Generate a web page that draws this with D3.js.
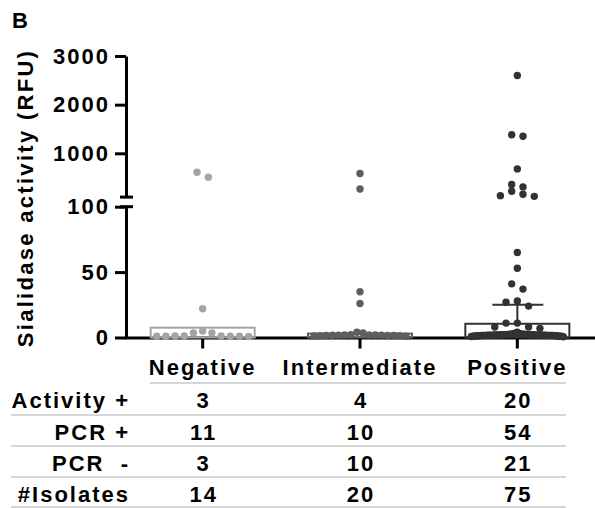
<!DOCTYPE html>
<html>
<head>
<meta charset="utf-8">
<script src="https://cdn.jsdelivr.net/npm/d3@7"></script>
<style>
  body { margin: 0; background: #fff; }
  svg { display: block; }
</style>
</head>
<body>
<div id="chart"></div>
<script>
// groups on the x axis
const categories = ["Negative", "Intermediate", "Positive"];

// sialidase activity (RFU) per isolate
const negativeValues = [612, 510, 22, 5, 3.4, 3.4, 1.2, 1.1, 1.1, 1, 1, 1, 0.9, 0.8];
const intermediateValues = [585, 265, 35, 26, 4, 3.5,
  2.2, 2, 2, 1.9, 1.8, 1.8, 1.7, 1.6, 1.5, 1.5, 1.4, 1.3, 1.2, 1];
const positiveValues = [2600, 1380, 1350, 680, 360, 310, 220, 160, 130, 115,
  65, 53, 41, 37, 28, 27, 24, 11, 11, 8, 8, 7,
  4, 3.5, 3, 3, 2.8, 2.7, 2.6, 2.5, 2.5, 2.4,
  2.4, 2.3, 2.3, 2.2, 2.2, 2.2, 2.1, 2.1, 2.1, 2,
  2, 2, 2, 2, 1.9, 1.9, 1.9, 1.8, 1.8, 1.8,
  1.8, 1.7, 1.7, 1.7, 1.6, 1.6, 1.6, 1.5, 1.5, 1.5,
  1.5, 1.4, 1.4, 1.3, 1.3, 1.2, 1.2, 1.1, 1, 1,
  0.9, 0.8, 0.6];

// bar height and upper error bar per group
const barValues = [7.5, 3, 10.5];
const errorUpper = [7.5, 3, 25];

// broken y axis
const lowTicks = [0, 50, 100];
const highTicks = [1000, 2000, 3000];

const dotColors = ["#a4a4a4", "#5e5e5e", "#323232"];

// table under the chart
const rowLabels = ["Activity +", "PCR +", "PCR  -", "#Isolates"];
const activityPlus = [3, 4, 20];
const pcrPlus = [11, 10, 54];
const pcrMinus = [3, 10, 21];
const isolates = [14, 20, 75];

const width = 595, height = 508;
const font = "'Liberation Sans', Arial, Helvetica, sans-serif";

const svg = d3.select("#chart")
  .append("svg")
  .attr("width", width)
  .attr("height", height)
  .style("font-family", font)
  .style("font-weight", "bold");

const x = d3.scaleBand()
  .domain(categories)
  .range([124, 596]);

const yLow = d3.scaleLinear().domain([0, 100]).range([337.5, 206.7]);
const yHigh = d3.scaleLinear().domain([100, 3000]).range([197.1, 56]);
const y = v => v <= 100 ? yLow(v) : yHigh(v);

const axisX = 126;

function styleAxis(g) {
  g.selectAll("path, line").attr("stroke", "#000").attr("stroke-width", 3);
  g.selectAll("text")
    .attr("fill", "#000")
    .style("font-family", font)
    .style("font-weight", "bold")
    .style("font-size", "22px")
    .style("letter-spacing", "2px");
}

// y axis, lower and upper segments
svg.append("g")
  .attr("transform", `translate(${axisX},0)`)
  .call(d3.axisLeft(yLow).tickValues(lowTicks).tickFormat(d3.format("d"))
    .tickSize(11).tickSizeOuter(0).tickPadding(5))
  .call(styleAxis);

svg.append("g")
  .attr("transform", `translate(${axisX},0)`)
  .call(d3.axisLeft(yHigh).tickValues(highTicks).tickFormat(d3.format("d"))
    .tickSize(11).tickSizeOuter(0).tickPadding(5))
  .call(styleAxis);

// break marks
[yLow(100), yHigh(100)].forEach(yy => {
  svg.append("line")
    .attr("x1", axisX - 6).attr("x2", axisX + 7)
    .attr("y1", yy).attr("y2", yy)
    .attr("stroke", "#000").attr("stroke-width", 3);
});

// x axis with group labels
svg.append("g")
  .attr("transform", `translate(0,${yLow(0)})`)
  .call(d3.axisBottom(x).tickSize(11).tickSizeOuter(0).tickPadding(11))
  .call(styleAxis);

// bars (outline only)
const barWidth = 104;
svg.selectAll("rect.bar")
  .data(categories)
  .enter()
  .append("rect")
  .attr("class", "bar")
  .attr("x", d => x(d) + x.bandwidth() / 2 - barWidth / 2)
  .attr("y", (d, i) => yLow(barValues[i]))
  .attr("width", barWidth)
  .attr("height", (d, i) => yLow(0) - yLow(barValues[i]))
  .attr("fill", "none")
  .attr("stroke", (d, i) => dotColors[i])
  .attr("stroke-width", 2);

// scatter: points with close y are laid out side by side in a row
const r = 3.7;
const laneStep = 11.3;
const maxSpread = 92;

function layout(values, cx) {
  const pts = values.map(v => ({ v, py: y(v) })).sort((a, b) => b.py - a.py);
  const rows = [];
  pts.forEach(p => {
    const row = rows[rows.length - 1];
    if (row && row.start - p.py < 7.5) row.items.push(p);
    else rows.push({ start: p.py, items: [p] });
  });
  const out = [];
  rows.forEach(row => {
    const n = row.items.length;
    const step = n > 1 ? Math.min(laneStep, maxSpread / (n - 1)) : 0;
    const slots = d3.range(n).map(i => (i - (n - 1) / 2) * step)
      .sort((a, b) => Math.abs(a) - Math.abs(b) || a - b);
    row.items.slice().sort((a, b) => b.v - a.v).forEach((p, i) => {
      out.push({ v: p.v, cx: cx + slots[i], cy: p.py });
    });
  });
  return out;
}

const groups = [negativeValues, intermediateValues, positiveValues];
groups.forEach((vals, i) => {
  const cx = x(categories[i]) + x.bandwidth() / 2;
  svg.append("g")
    .selectAll("circle")
    .data(layout(vals, cx))
    .enter()
    .append("circle")
    .attr("cx", d => d.cx)
    .attr("cy", d => d.cy)
    .attr("r", r)
    .attr("fill", dotColors[i]);
});

// error bars
categories.forEach((c, i) => {
  if (errorUpper[i] <= barValues[i]) return;
  const cx = x(c) + x.bandwidth() / 2;
  svg.append("line")
    .attr("x1", cx).attr("x2", cx)
    .attr("y1", yLow(barValues[i])).attr("y2", yLow(errorUpper[i]))
    .attr("stroke", dotColors[i]).attr("stroke-width", 2);
  svg.append("line")
    .attr("x1", cx - 25).attr("x2", cx + 26)
    .attr("y1", yLow(errorUpper[i])).attr("y2", yLow(errorUpper[i]))
    .attr("stroke", dotColors[i]).attr("stroke-width", 2);
});

// panel letter and y title
svg.append("text")
  .attr("x", 12).attr("y", 28)
  .style("font-size", "22px")
  .text("B");

svg.append("text")
  .attr("transform", "translate(33,198) rotate(-90)")
  .attr("text-anchor", "middle")
  .style("font-size", "22px")
  .style("letter-spacing", "2.3px")
  .text("Sialidase activity (RFU)");

// table
const tableRows = [activityPlus, pcrPlus, pcrMinus, isolates];
const rowBase = [408, 440, 471, 502];
const ruleY = [383, 415, 446, 477, 507];

ruleY.forEach((ry, i) => {
  svg.append("line")
    .attr("x1", i === 0 ? 150 : 11).attr("x2", 566)
    .attr("y1", ry).attr("y2", ry)
    .attr("stroke", "#c9c9c9").attr("stroke-width", 1.5);
});

tableRows.forEach((row, j) => {
  svg.append("text")
    .attr("x", 130).attr("y", rowBase[j])
    .attr("text-anchor", "end")
    .style("font-size", "22px")
    .style("letter-spacing", "2px")
    .style("white-space", "pre")
    .text(rowLabels[j]);
  svg.append("g")
    .selectAll("text")
    .data(row)
    .enter()
    .append("text")
    .attr("x", (d, i) => x(categories[i]) + x.bandwidth() / 2 + 1)
    .attr("y", rowBase[j])
    .attr("text-anchor", "middle")
    .style("font-size", "22px")
    .style("letter-spacing", "2px")
    .text(d => d);
});
</script>
</body>
</html>
